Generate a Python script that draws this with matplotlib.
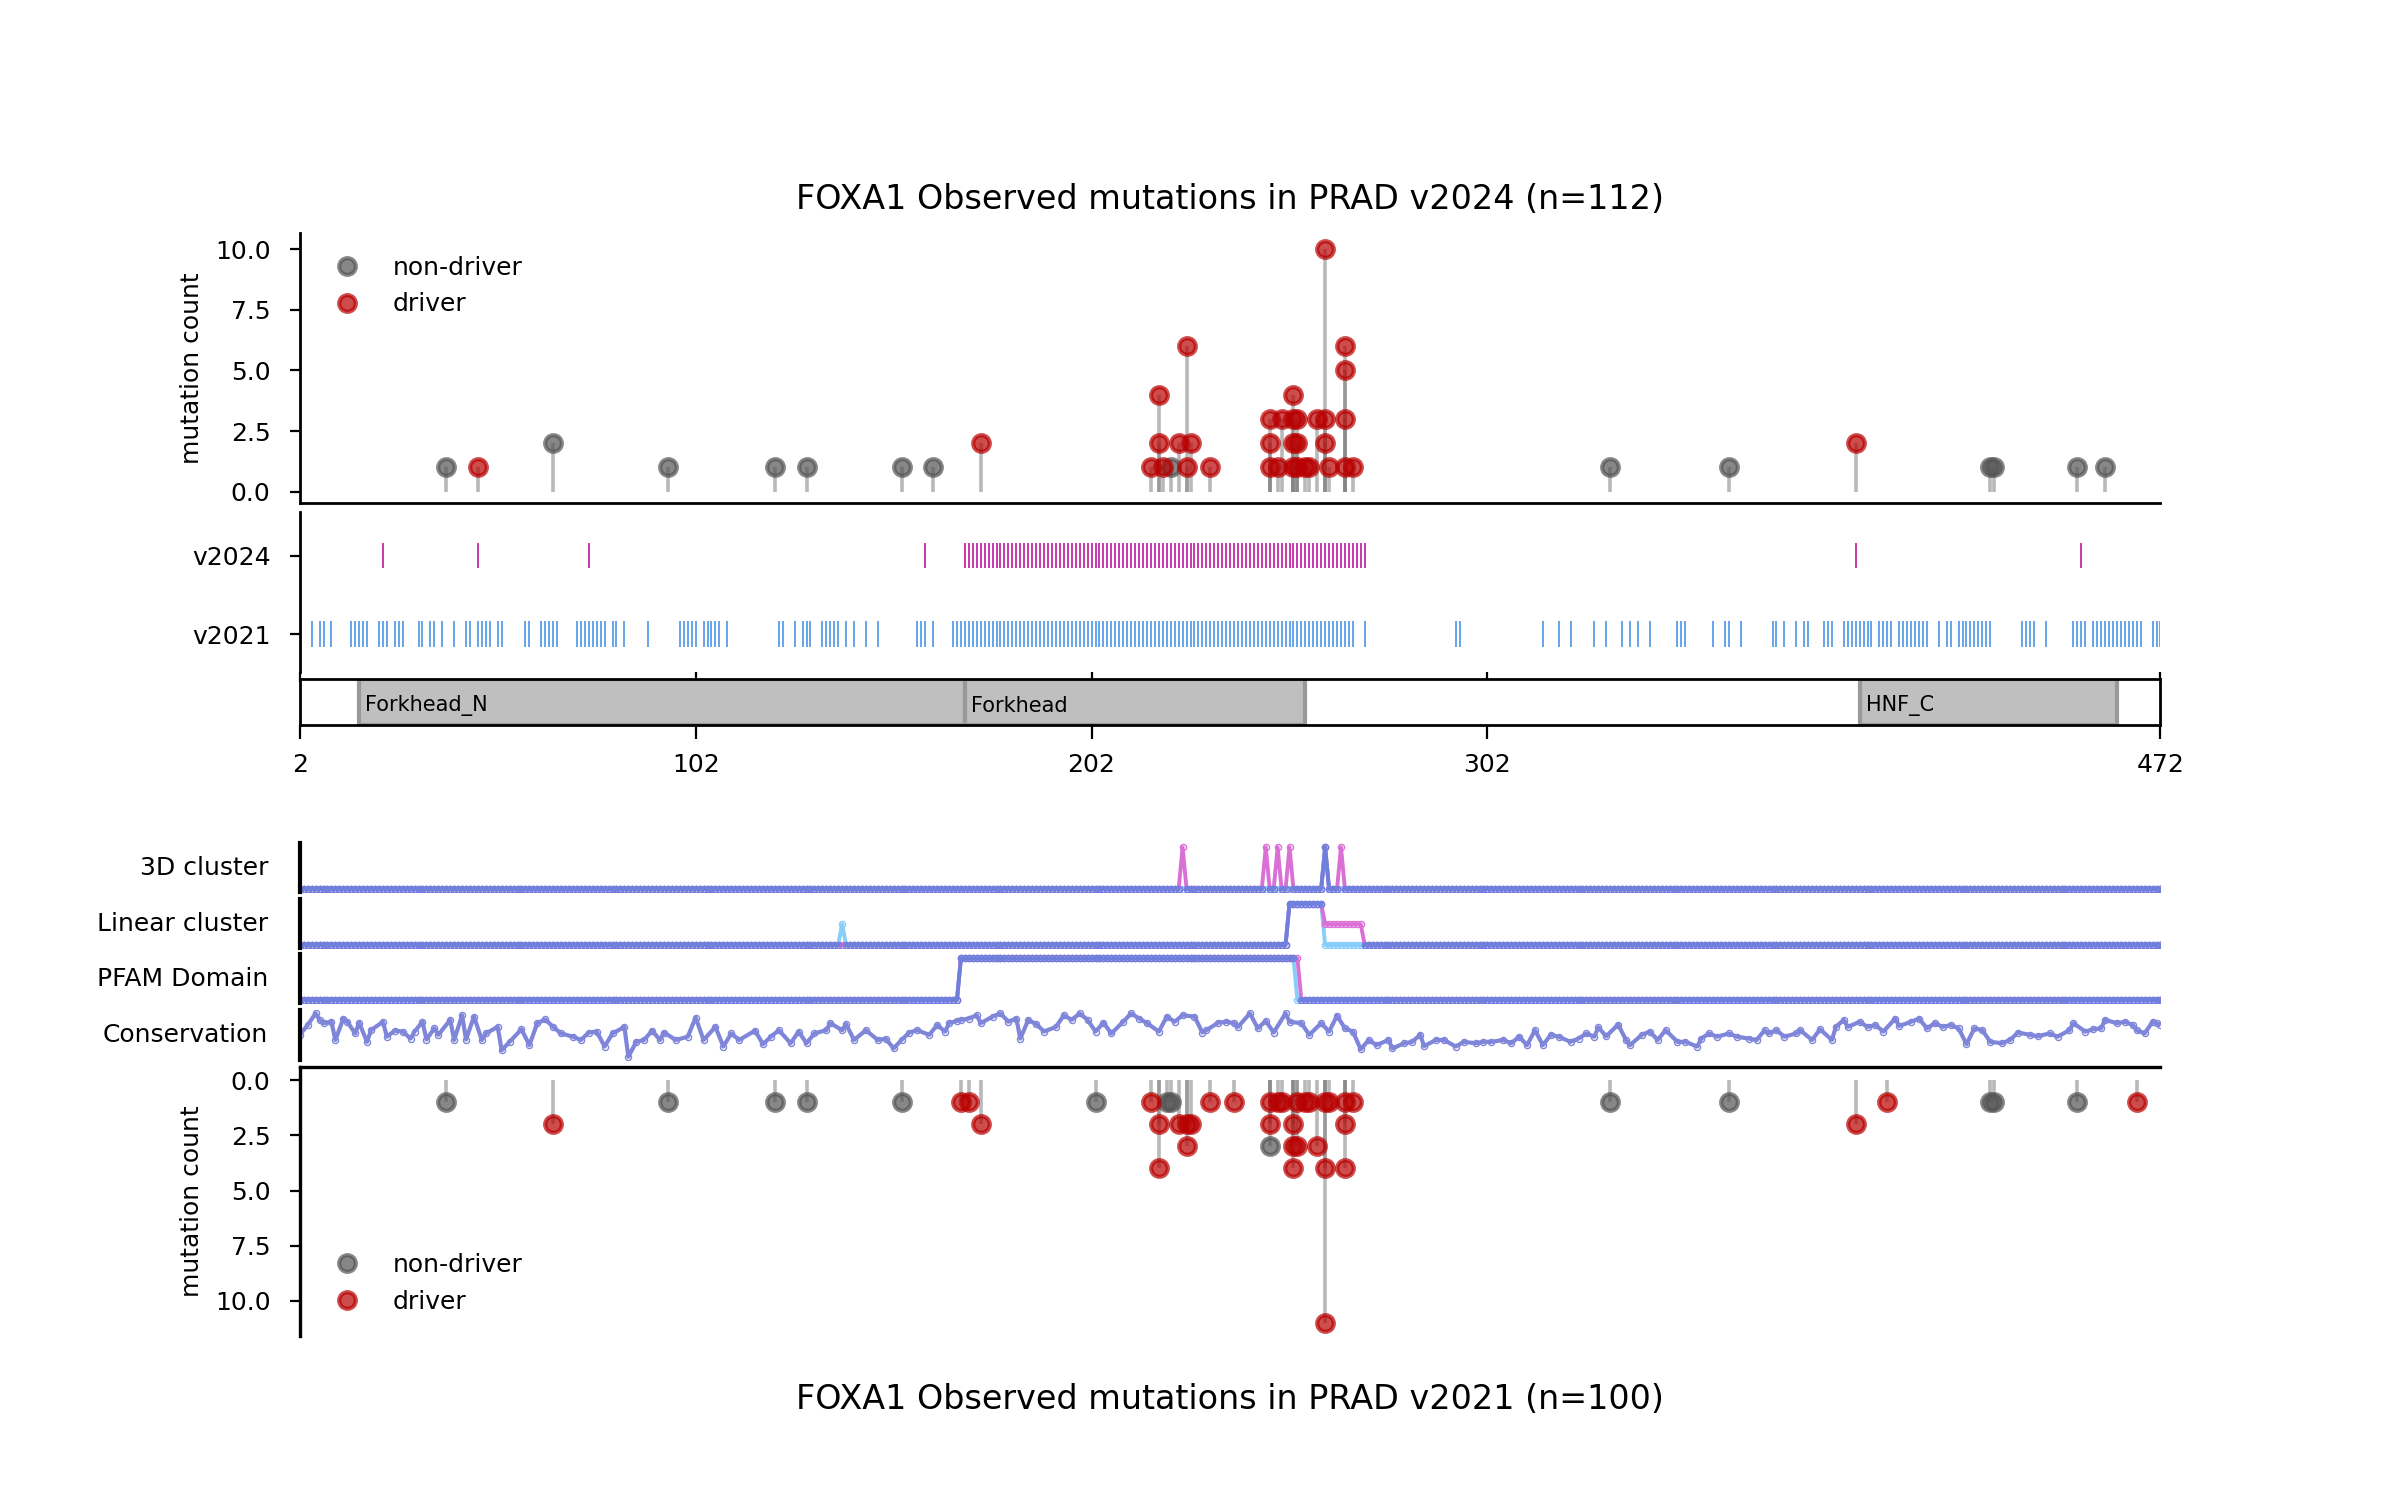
import numpy as np
import matplotlib
matplotlib.use("Agg")
import matplotlib.pyplot as plt
from matplotlib.patches import Rectangle

plt.rcParams["font.size"] = 9

# ---------------- data ----------------
xmin, xmax = 2, 472
xticks = [2, 102, 202, 302, 472]

# v2024 lollipop (protein position, mutation count)
top_nd_pos = [39, 66, 95, 122, 130, 154, 162, 222, 333, 363, 429, 430, 451, 458]
top_nd_cnt = [1, 2, 1, 1, 1, 1, 1, 1, 1, 1, 1, 1, 1, 1]
top_dr_pos = [47, 174, 217, 219, 219, 220, 224, 226, 226, 227, 232,
              247, 247, 247, 249, 250, 253, 253, 253, 253, 254, 254, 254,
              256, 257, 259, 261, 261, 261, 262, 266, 266, 266, 266, 268, 395]
top_dr_cnt = [1, 2, 1, 4, 2, 1, 2, 6, 1, 2, 1,
              3, 2, 1, 1, 3, 4, 3, 2, 1, 3, 2, 1,
              1, 1, 3, 10, 3, 2, 1, 6, 5, 3, 1, 1, 2]

# v2021 lollipop
bot_nd_pos = [39, 95, 122, 130, 154, 203, 221, 222, 247, 333, 363, 429, 430, 451]
bot_nd_cnt = [1, 1, 1, 1, 1, 1, 1, 1, 3, 1, 1, 1, 1, 1]
bot_dr_pos = [66, 169, 171, 174, 217, 219, 219, 224, 226, 226, 227, 232, 238,
              247, 247, 249, 250, 253, 253, 253, 254, 254, 256, 257, 259,
              261, 261, 261, 262, 266, 266, 266, 268, 395, 403, 466]
bot_dr_cnt = [2, 1, 1, 2, 1, 2, 4, 2, 3, 2, 2, 1, 1,
              1, 2, 1, 1, 2, 3, 4, 3, 1, 1, 1, 3,
              11, 4, 1, 1, 4, 2, 1, 1, 2, 1, 1]

# hotspot positions per version (rug track)
rug_v2024 = [23, 47, 75, 160] + list(range(170, 272)) + [395, 452]
rug_v2021 = ([5, 7, 8, 10, 15, 16, 17, 18, 19, 22, 23, 24, 26, 27, 28, 32, 33, 35, 36, 38,
              41, 44, 45, 47, 48, 49, 50, 52, 53, 59, 60, 63, 64, 65, 66, 67, 72, 73, 74, 75,
              76, 77, 78, 79, 81, 82, 84, 90, 98, 99, 100, 101, 102, 104, 105, 106, 107, 108,
              110, 123, 124, 127, 129, 130, 131, 134, 135, 136, 137, 138, 140, 142, 145, 148,
              158, 159, 160, 162]
             + list(range(167, 269))
             + [271, 294, 295, 316, 320, 323, 329, 332, 336, 338, 340, 343, 350, 351, 352,
                359, 362, 363, 366, 374, 375, 377, 380, 382, 383, 387, 388, 389,
                392, 393, 394, 395, 396, 397, 398, 399, 401, 402, 403, 404,
                406, 407, 408, 409, 410, 411, 412, 413, 416, 418, 419,
                421, 422, 423, 424, 425, 426, 427, 428, 429, 437, 438, 439, 440, 443,
                450, 451, 452, 453, 455, 456, 457, 458, 459, 460, 461, 462, 463, 464,
                465, 466, 467, 470, 471, 472])

# PFAM domains (name, start, end)
domains = [("Forkhead_N", 17, 170), ("Forkhead", 170, 256), ("HNF_C", 396, 461)]

# feature tracks
cl3d_v2024 = [225, 246, 249, 252, 261, 265]
cl3d_v2021 = [261]
lin_v2024 = [(252, 260, 1.0), (261, 270, 0.5)]
lin_v2021 = [(139, 139, 0.5), (252, 260, 1.0)]
pfam_v2024 = [(169, 254, 1.0)]
pfam_v2021 = [(169, 253, 1.0)]

cons_pos = [2, 4, 6, 7, 8, 10, 11, 13, 14, 16,
            17, 19, 20, 23, 24, 26, 28, 30, 31, 33,
            34, 36, 37, 40, 41, 43, 44, 46, 48, 49,
            52, 53, 55, 58, 60, 62, 64, 66, 68, 71,
            73, 75, 77, 79, 81, 84, 85, 87, 89, 91,
            93, 94, 97, 100, 102, 104, 107, 109, 111, 113,
            117, 119, 121, 123, 126, 128, 130, 132, 135, 136,
            139, 140, 142, 145, 148, 150, 152, 154, 156, 158,
            161, 163, 165, 166, 168, 169, 171, 173, 174, 177,
            179, 181, 183, 184, 186, 188, 190, 193, 195, 197,
            199, 201, 203, 205, 207, 210, 212, 214, 216, 219,
            221, 223, 225, 228, 230, 231, 234, 236, 238, 239,
            242, 244, 246, 248, 251, 252, 255, 257, 260, 262,
            264, 266, 268, 270, 272, 274, 277, 278, 281, 283,
            285, 286, 289, 291, 294, 296, 299, 301, 303, 306,
            308, 310, 312, 314, 316, 318, 320, 323, 325, 327,
            329, 330, 332, 335, 337, 338, 341, 343, 345, 347,
            350, 352, 355, 356, 358, 360, 363, 365, 368, 370,
            372, 373, 375, 377, 380, 381, 384, 386, 389, 390,
            392, 393, 396, 398, 400, 402, 405, 406, 409, 411,
            413, 415, 417, 419, 421, 423, 425, 427, 429, 432,
            434, 436, 439, 441, 444, 446, 449, 450, 453, 455,
            457, 458, 461, 463, 465, 466, 468, 470, 471, 472]
cons_val = [0.54, 0.75, 1.00, 0.86, 0.79, 0.82, 0.43, 0.89, 0.82, 0.57,
            0.80, 0.39, 0.64, 0.82, 0.50, 0.63, 0.61, 0.46, 0.61, 0.82,
            0.44, 0.68, 0.54, 0.86, 0.43, 0.96, 0.44, 0.93, 0.43, 0.57,
            0.71, 0.21, 0.39, 0.66, 0.32, 0.79, 0.87, 0.71, 0.57, 0.50,
            0.43, 0.59, 0.61, 0.29, 0.57, 0.71, 0.07, 0.39, 0.43, 0.63,
            0.43, 0.59, 0.43, 0.50, 0.91, 0.43, 0.71, 0.29, 0.57, 0.43,
            0.63, 0.34, 0.50, 0.64, 0.36, 0.61, 0.36, 0.57, 0.64, 0.79,
            0.64, 0.77, 0.43, 0.64, 0.43, 0.46, 0.25, 0.43, 0.59, 0.64,
            0.54, 0.75, 0.61, 0.79, 0.84, 0.86, 0.89, 0.96, 0.79, 0.93,
            1.00, 0.82, 0.89, 0.46, 0.86, 0.77, 0.61, 0.71, 0.96, 0.86,
            1.00, 0.86, 0.61, 0.80, 0.57, 0.82, 1.00, 0.89, 0.79, 0.61,
            0.93, 0.82, 0.96, 0.93, 0.59, 0.64, 0.80, 0.82, 0.79, 0.71,
            1.00, 0.68, 0.84, 0.59, 1.00, 0.82, 0.79, 0.54, 0.79, 0.61,
            0.95, 0.68, 0.61, 0.23, 0.43, 0.32, 0.43, 0.25, 0.36, 0.39,
            0.54, 0.30, 0.43, 0.43, 0.29, 0.39, 0.36, 0.39, 0.39, 0.43,
            0.36, 0.50, 0.32, 0.64, 0.32, 0.54, 0.50, 0.39, 0.46, 0.57,
            0.50, 0.70, 0.51, 0.76, 0.43, 0.32, 0.54, 0.61, 0.43, 0.64,
            0.39, 0.39, 0.29, 0.46, 0.57, 0.50, 0.57, 0.50, 0.46, 0.43,
            0.64, 0.57, 0.64, 0.50, 0.57, 0.64, 0.43, 0.66, 0.43, 0.71,
            0.86, 0.71, 0.82, 0.71, 0.75, 0.61, 0.89, 0.73, 0.82, 0.89,
            0.68, 0.79, 0.71, 0.75, 0.68, 0.34, 0.68, 0.64, 0.39, 0.36,
            0.43, 0.59, 0.54, 0.51, 0.57, 0.50, 0.64, 0.79, 0.61, 0.66,
            0.68, 0.86, 0.79, 0.82, 0.75, 0.64, 0.57, 0.82, 0.79, 0.75]

# ---------------- styles ----------------
DRIVER = "#b80000"
NONDRIVER = "#555555"
C24 = "orchid"
C21 = "lightskyblue"
CBOTH = "#6f80dc"
SPINE_LW = 1.0

L, W = 0.1249, 0.7753
fig = plt.figure(figsize=(12, 7.5), dpi=200)


def spines(ax, show, lw=SPINE_LW):
    for side in ["left", "right", "top", "bottom"]:
        ax.spines[side].set_visible(side in show)
        ax.spines[side].set_linewidth(lw)


def lollipop(ax, pos, cnt, color):
    ax.vlines(pos, 0, cnt, color="gray", alpha=0.55, lw=1.3, zorder=1)
    ax.plot(pos, cnt, "o", color=color, alpha=0.7, ms=6, mew=1.5, zorder=2)


def legend(ax, loc):
    ax.plot([], [], "o", color=NONDRIVER, alpha=0.7, ms=6, mew=1.5, label="non-driver")
    ax.plot([], [], "o", color=DRIVER, alpha=0.7, ms=6, mew=1.5, label="driver")
    ax.legend(loc=loc, frameon=False, fontsize=9)


# --- top lollipop (v2024)
ax_top = fig.add_axes([L, 0.6644, W, 0.1800])
lollipop(ax_top, top_nd_pos, top_nd_cnt, NONDRIVER)
lollipop(ax_top, top_dr_pos, top_dr_cnt, DRIVER)
legend(ax_top, "upper left")
ax_top.set_xlim(xmin, xmax)
ax_top.set_ylim(-0.48, 10.65)
ax_top.set_yticks([0, 2.5, 5, 7.5, 10])
ax_top.set_yticklabels(["0.0", "2.5", "5.0", "7.5", "10.0"])
ax_top.tick_params(axis="y", pad=7)
ax_top.set_xticks([])
ax_top.set_ylabel("mutation count")
spines(ax_top, ["left", "bottom"])
fig.text(L + W / 2, 0.8667, "FOXA1 Observed mutations in PRAD v2024 (n=112)",
         ha="center", va="center", fontsize=12)

# --- rug tracks
ax_trk = fig.add_axes([L, 0.5522, W, 0.1067])
ax_trk.vlines(rug_v2024, 1 - 0.16, 1 + 0.16, color="#c0179f", lw=0.6)
ax_trk.vlines(rug_v2021, -0.16, 0.16, color="#4a96e6", lw=0.6)
ax_trk.set_xlim(xmin, xmax)
ax_trk.set_ylim(-0.48, 1.56)
ax_trk.set_yticks([1, 0])
ax_trk.set_yticklabels(["v2024", "v2021"])
ax_trk.tick_params(axis="y", pad=7)
ax_trk.set_xticks(xticks)
ax_trk.set_xticklabels([])
spines(ax_trk, ["left"])

# --- domains
ax_dom = fig.add_axes([L, 0.5166, W, 0.0305])
for name, start, end in domains:
    ax_dom.add_patch(Rectangle((start, 0), end - start, 1, facecolor="#bfbfbf",
                               edgecolor="#999999", lw=1.5))
    ax_dom.text(start + 1.5, 0.42, name, ha="left", va="center", fontsize=7.5)
ax_dom.set_xlim(xmin, xmax)
ax_dom.set_ylim(0, 1)
ax_dom.set_yticks([])
ax_dom.set_xticks(xticks)
ax_dom.set_xticklabels([str(t) for t in xticks])
ax_dom.tick_params(axis="x", length=5, pad=5)
spines(ax_dom, ["left", "right", "top", "bottom"])

# --- feature tracks
res = np.arange(xmin, xmax + 1)


def from_points(points):
    v = np.zeros(len(res))
    v[np.isin(res, points)] = 1.0
    return v


def from_segments(segs):
    v = np.zeros(len(res))
    for a, b, val in segs:
        v[(res >= a) & (res <= b)] = val
    return v


def feature(ax, v24, v21, label):
    kw = dict(lw=1.4, marker="o", ms=2.2, mfc="none", mew=0.5)
    ax.plot(res, v21, color=C21, **kw)
    ax.plot(res, v24, color=C24, **kw)
    both = np.where(v24 == v21, v24, np.nan)
    ax.plot(res, both, color=CBOTH, **kw)
    ax.set_xlim(xmin, xmax)
    ax.set_ylim(-0.08, 1.1)
    ax.set_xticks([])
    ax.set_yticks([])
    spines(ax, ["left"], lw=1.5)
    ax.text(-0.017, 0.5, label, transform=ax.transAxes, ha="right", va="center", fontsize=9)


ax_3d = fig.add_axes([L, 0.4051, W, 0.0328])
feature(ax_3d, from_points(cl3d_v2024), from_points(cl3d_v2021), "3D cluster")
ax_lin = fig.add_axes([L, 0.3678, W, 0.0326])
feature(ax_lin, from_segments(lin_v2024), from_segments(lin_v2021), "Linear cluster")
ax_pf = fig.add_axes([L, 0.3311, W, 0.0327])
feature(ax_pf, from_segments(pfam_v2024), from_segments(pfam_v2021), "PFAM Domain")

ax_con = fig.add_axes([L, 0.2933, W, 0.0333])
ax_con.plot(cons_pos, cons_val, color="#7f86da", lw=1.5, marker="o", ms=2.2, mfc="none", mew=0.5)
ax_con.set_xlim(xmin, xmax)
ax_con.set_ylim(0, 1.07)
ax_con.set_xticks([])
ax_con.set_yticks([])
spines(ax_con, ["left"], lw=1.5)
ax_con.text(-0.017, 0.5, "Conservation", transform=ax_con.transAxes, ha="right", va="center", fontsize=9)

# --- bottom lollipop (v2021)
ax_bot = fig.add_axes([L, 0.1093, W, 0.1796])
lollipop(ax_bot, bot_nd_pos, bot_nd_cnt, NONDRIVER)
lollipop(ax_bot, bot_dr_pos, bot_dr_cnt, DRIVER)
legend(ax_bot, "lower left")
ax_bot.set_xlim(xmin, xmax)
ax_bot.set_ylim(11.59, -0.61)
ax_bot.set_yticks([0, 2.5, 5, 7.5, 10])
ax_bot.set_yticklabels(["0.0", "2.5", "5.0", "7.5", "10.0"])
ax_bot.tick_params(axis="y", pad=7)
ax_bot.set_xticks([])
ax_bot.set_ylabel("mutation count")
spines(ax_bot, ["left", "top"], lw=1.2)
fig.text(L + W / 2, 0.0667, "FOXA1 Observed mutations in PRAD v2021 (n=100)",
         ha="center", va="center", fontsize=12)

fig.savefig("out.png", dpi=200)
